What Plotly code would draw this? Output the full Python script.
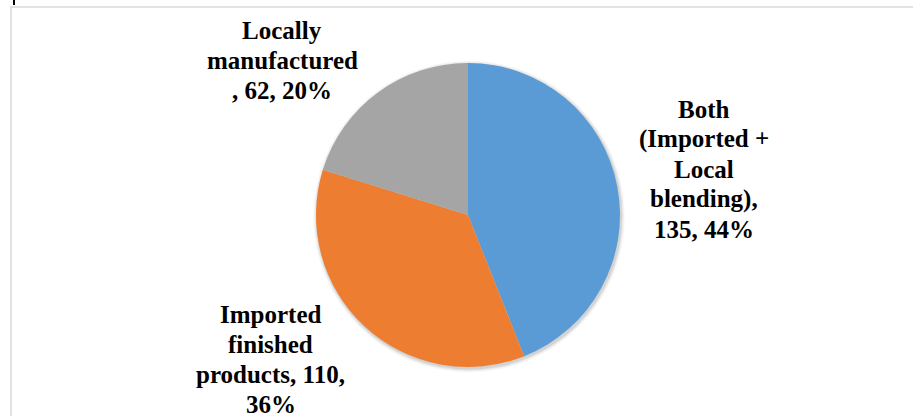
import textwrap
import plotly.graph_objects as go

# Source of finished lubricant products
categories = ["Both (Imported + Local blending)", "Imported finished products", "Locally manufactured "]
values = [135, 110, 62]
colors = ["#5B9BD5", "#ED7D31", "#A5A5A5"]

W, H = 913, 416
total = sum(values)
percents = [round(v * 100 / total) for v in values]

# Pie geometry in pixels (centre and radius)
cx, cy, R = 468, 215, 152

fig = go.Figure()
fig.add_trace(go.Pie(
    labels=categories,
    values=values,
    marker=dict(colors=colors, line=dict(width=0)),
    sort=False,
    direction="clockwise",
    rotation=0,
    textinfo="none",
    hoverinfo="label+value+percent",
    showlegend=False,
    domain=dict(x=[(cx - R) / W, (cx + R) / W], y=[(H - cy - R) / H, (H - cy + R) / H]),
))

# Data labels: wrapped text, one annotation per line
wrap_widths = [11, 14, 12]
label_pos = [(704, 117.5), (270.5, 323), (282, 39)]  # centre x, first baseline y
line_step = 30.0
font_size = 25
serif = "'Liberation Serif', 'Times New Roman', Times, serif"
annotations = []
for cat, v, p, ww, (lx, ly) in zip(categories, values, percents, wrap_widths, label_pos):
    text = f"{cat}, {v}, {p}%"
    for i, line in enumerate(textwrap.wrap(text, width=ww)):
        base = ly + i * line_step
        annotations.append(dict(
            text=f"<b>{line}</b>", showarrow=False,
            xref="paper", yref="paper",
            x=lx / W, y=1 - (base - 0.3375 * font_size) / H,
            xanchor="center", yanchor="middle",
            font=dict(family=serif, size=font_size, color="#000000"),
        ))

shapes = []
# soft drop shadow around the pie
for k, a in [(4, 0.025), (3, 0.035), (2, 0.05), (1, 0.07)]:
    shapes.append(dict(
        type="circle", xref="paper", yref="paper", layer="below",
        x0=(cx - R - k + 1) / W, x1=(cx + R + k + 1) / W,
        y0=1 - (cy + R + k + 1.5) / H, y1=1 - (cy - R - k + 1.5) / H,
        line=dict(width=0), fillcolor=f"rgba(0,0,0,{a})",
    ))
# chart frame
shapes.append(dict(
    type="rect", xref="paper", yref="paper", layer="below",
    x0=11 / W, x1=1.02, y0=-0.02, y1=1 - 7 / H,
    line=dict(color="#D9D9D9", width=1.5), fillcolor="rgba(0,0,0,0)",
))
shapes.append(dict(
    type="line", xref="paper", yref="paper",
    x0=14 / W, x1=14 / W, y0=1 - 5 / H, y1=1.0,
    line=dict(color="#000000", width=2),
))

fig.update_layout(
    width=W, height=H,
    margin=dict(l=0, r=0, t=0, b=0),
    paper_bgcolor="white", plot_bgcolor="white",
    font=dict(family=serif),
    annotations=annotations,
    shapes=shapes,
)

fig.write_html("out.html")
